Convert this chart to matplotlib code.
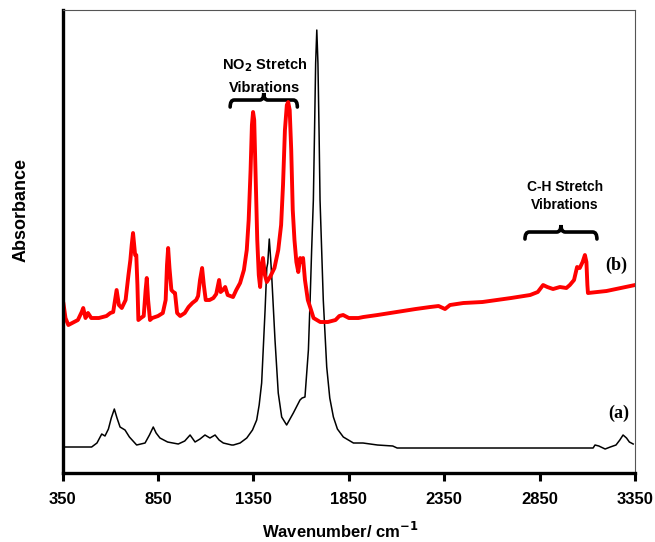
import numpy as np
import matplotlib
matplotlib.use("Agg")
import matplotlib.pyplot as plt
from matplotlib.path import Path
from matplotlib.patches import PathPatch

# spectrum (a) - black
wn_a = [350, 502, 530, 555, 572, 590, 605, 621, 635, 651, 677, 700, 738, 782,
        805, 825, 840, 860, 900, 956, 990, 1018, 1044, 1070, 1096, 1122, 1149,
        1170, 1192, 1236, 1245, 1280, 1315, 1345, 1367, 1380, 1393, 1411, 1420,
        1425, 1433, 1440, 1446, 1463, 1480, 1498, 1524, 1559, 1594, 1605, 1620,
        1638, 1647, 1655, 1664, 1670, 1676, 1682, 1688, 1694, 1699, 1716, 1734,
        1750, 1769, 1790, 1821, 1874, 1924, 2000, 2080, 2103, 3130, 3140, 3160,
        3193, 3220, 3250, 3270, 3287, 3305, 3320, 3340]
abs_a = [26, 26, 30, 39, 37, 44, 55, 64, 55, 46, 43, 36, 28, 30,
         38, 46, 40, 35, 31, 29, 32, 38, 31, 34, 38, 35, 38,
         33, 30, 28, 28, 30, 35, 43, 53, 68, 90, 163, 205,
         210, 234, 215, 196, 133, 80, 56, 48, 60, 73, 75, 76,
         123, 173, 223, 273, 340, 410, 443, 410, 340, 273, 173, 106,
         75, 56, 44, 36, 30, 30, 28, 27, 25, 25, 28, 27,
         24, 26, 28, 33, 38, 35, 31, 29]

# spectrum (b) - red
wn_b = [350, 354, 365, 380, 400, 430, 450, 458, 470, 483, 500, 540, 580, 600, 615,
        625, 633, 645, 660, 680, 695, 705, 712, 719, 725, 730, 736, 742, 747, 760,
        775, 785, 791, 798, 808, 820, 850, 875, 890, 897, 903, 910, 920, 930, 939,
        950, 966, 990, 1010, 1030, 1050, 1060, 1070, 1081, 1090, 1100, 1120, 1140,
        1155, 1165, 1170, 1178, 1190, 1202, 1215, 1243, 1260, 1280, 1300, 1315, 1325,
        1335, 1342, 1348, 1354, 1362, 1370, 1378, 1385, 1393, 1400, 1410, 1420, 1437,
        1460, 1480, 1495, 1505, 1515, 1525, 1532, 1540, 1548, 1556, 1565, 1575, 1585,
        1595, 1603, 1610, 1620, 1635, 1647, 1665, 1700, 1740, 1780, 1800, 1820, 1850,
        1900, 1926, 2000, 2100, 2200, 2276, 2320, 2354, 2380, 2450, 2550, 2625, 2700,
        2800, 2840, 2868, 2890, 2920, 2956, 2990, 3008, 3030, 3046, 3060, 3075, 3087,
        3095, 3100, 3103, 3150, 3200, 3250, 3300, 3350]
abs_b = [173, 170, 155, 148, 150, 153, 161, 165, 155, 160, 155, 155, 157, 160, 161,
         173, 183, 168, 165, 173, 198, 213, 228, 240, 228, 218, 218, 188, 153, 155,
         157, 183, 195, 173, 153, 155, 157, 160, 173, 208, 225, 205, 183, 181, 180,
         160, 157, 160, 166, 170, 173, 177, 193, 205, 188, 173, 173, 175,
         179, 188, 193, 181, 183, 186, 178, 176, 183, 190, 203, 223, 253,
         303, 348, 361, 353, 293, 233, 198, 186, 208, 215, 198, 191, 196,
         205, 223, 248, 288, 343, 368, 371, 363, 323, 263, 233, 211, 201,
         215, 211, 215, 193, 173, 166, 155, 151, 151, 153, 157, 158, 155,
         155, 156, 158, 161, 164, 166, 167, 164, 168, 170, 171, 173, 175,
         178, 181, 188, 186, 184, 186, 185, 188, 193, 206, 205, 211, 218,
         211, 188, 180, 181, 182, 184, 186, 188]

xticks = [350, 850, 1350, 1850, 2350, 2850, 3350]

sans = ['Liberation Sans Narrow', 'Liberation Sans', 'DejaVu Sans']
serif = ['Liberation Serif', 'DejaVu Serif']


def brace(ax, x0, x1, y, h):
    xm = (x0 + x1) / 2
    w = (x1 - x0) * 0.06
    verts = [(x0, y - h), (x0, y), (x0 + w, y),
             (xm - w, y), (xm, y), (xm, y + h),
             (xm, y), (xm + w, y),
             (x1 - w, y), (x1, y), (x1, y - h)]
    codes = [Path.MOVETO, Path.CURVE3, Path.CURVE3,
             Path.LINETO, Path.CURVE3, Path.CURVE3,
             Path.CURVE3, Path.CURVE3,
             Path.LINETO, Path.CURVE3, Path.CURVE3]
    ax.add_patch(PathPatch(Path(verts, codes), fill=False, lw=2.6,
                           edgecolor='black', capstyle='round'))


fig = plt.figure(figsize=(6.55, 5.42), dpi=100)
ax = fig.add_axes([0.0956, 0.1273, 0.874, 0.8542])

ax.plot(wn_a, abs_a, color='black', lw=1.1)
ax.plot(wn_b, abs_b, color='#ff0000', lw=2.8)

ax.set_xlim(350, 3350)
ax.set_ylim(0, 463)
ax.set_xticks(xticks)
ax.set_xticklabels([str(t) for t in xticks], family=sans, fontsize=12, fontweight='bold')
ax.set_yticks([])
ax.tick_params(axis='x', direction='out', length=6, width=2.2, pad=8)

ax.spines['left'].set_linewidth(2.4)
ax.spines['bottom'].set_linewidth(2.4)
for s in ['top', 'right']:
    ax.spines[s].set_linewidth(0.8)
    ax.spines[s].set_color('#555555')

ax.set_xlabel('Wavenumber/ cm$^{\\mathbf{-1}}$', family=sans, fontsize=12,
              fontweight='bold')
ax.xaxis.set_label_coords(0.485, -0.103)
ax.set_ylabel('Absorbance', family=sans, fontsize=13, fontweight='bold')
ax.yaxis.set_label_coords(-0.057, 0.568)

ax.text(1410, 408, 'NO$_\\mathbf{2}$ Stretch', ha='center', va='center',
        family=sans, fontsize=10.5, fontweight='bold')
ax.text(1410, 385, 'Vibrations', ha='center', va='center',
        family=sans, fontsize=10.5, fontweight='bold')
brace(ax, 1228, 1580, 373, 7)

ax.text(2983, 286, 'C-H Stretch', ha='center', va='center',
        family=sans, fontsize=10, fontweight='bold')
ax.text(2983, 268, 'Vibrations', ha='center', va='center',
        family=sans, fontsize=10, fontweight='bold')
brace(ax, 2773, 3150, 241, 7)

ax.text(3250, 208, '(b)', ha='center', va='center', family=serif,
        fontsize=13, fontweight='bold')
ax.text(3262, 60, '(a)', ha='center', va='center', family=serif,
        fontsize=13, fontweight='bold')

fig.savefig('out.png', dpi=100)
